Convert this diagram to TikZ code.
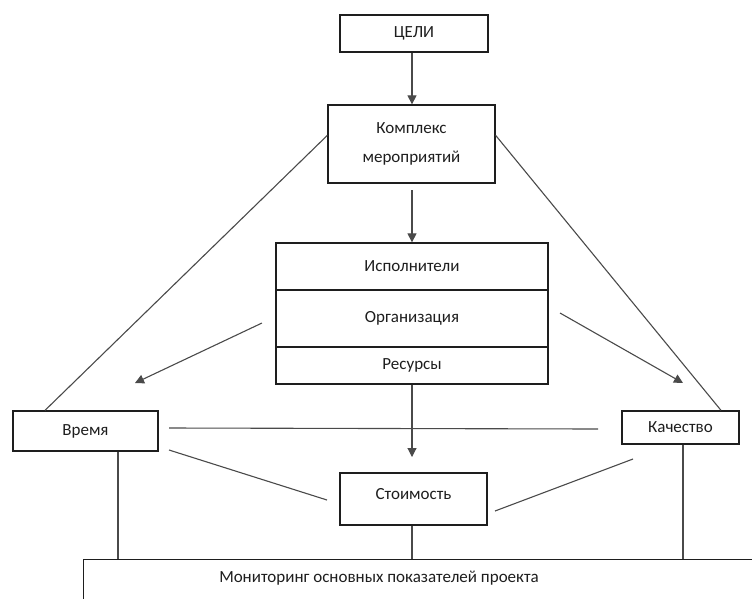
\documentclass[tikz,border=0pt]{standalone}
\usepackage{fontspec}
\setmainfont{Carlito}
\usetikzlibrary{arrows.meta,calc}
\definecolor{ink}{HTML}{1E1E1E}
\definecolor{wire}{HTML}{4A4A4A}
\tikzset{
  lbl/.style={font=\fontsize{17}{20}\selectfont, text=ink},
  box/.style={draw=ink, line width=1.3pt, fill=white, inner sep=0pt, lbl},
  link/.style={draw=wire, line width=1.1pt},
  arr/.style={link, -{Triangle[length=9pt,width=9pt]}},
}
\begin{document}
\begin{tikzpicture}[x=1pt,y=-1pt]
\useasboundingbox (0,0) rectangle (752,598);
\clip (0,0) rectangle (752,598);
\fill[white] (0,0) rectangle (752,598);

% main blocks
\node[box, minimum width=148pt, minimum height=37pt] (goals) at (414,33.5) {ЦЕЛИ};
\node[box, minimum width=167pt, minimum height=78pt, align=center] (plan) at (411.5,144) {Комплекс\\[9pt]мероприятий};
\node[box, minimum width=272pt, minimum height=47pt] (exec) at (412,266.5) {Исполнители};
\node[box, minimum width=272pt, minimum height=57pt] (org) at (412,318.5) {Организация};
\node[box, minimum width=272pt, minimum height=37pt] (res) at (412,365.5) {Ресурсы};
\node[box, minimum width=145pt, minimum height=40pt] (time) at (85.5,431) {Время};
\node[box, minimum width=117pt, minimum height=33pt] (qual) at (680.5,427.5) {Качество};
\node[box, minimum width=147pt, minimum height=52pt, text depth=11pt] (cost) at (413.5,499) {Стоимость};
\node[box, minimum width=690pt, minimum height=60pt, anchor=north west] (mon) at (83,559) {};
\node[lbl] (montext) at (379,578) {Мониторинг основных показателей проекта};

% free ends of the loose connectors
\coordinate (la) at (262,323);
\coordinate (lb) at (135,383);
\coordinate (ra) at (560,313);
\coordinate (rb) at (683,383);
\coordinate (ta) at (169,428);
\coordinate (tb) at (598,429);
\coordinate (tc) at (169,450);
\coordinate (td) at (327,500);
\coordinate (qa) at (495,511);
\coordinate (qb) at (633,459);
\coordinate (pa) at (412,190);
\coordinate (rc) at (412,457);

% vertical flow
\draw[arr] (goals.south -| 412,0) -- (plan.north -| 412,0);
\draw[arr] (pa) -- (exec.north -| pa);
\draw[arr] (res.south -| 412,0) -- (rc);

% side arrows
\draw[arr] (la) -- (lb);
\draw[arr] (ra) -- (rb);

% triangle of constraints
\draw[link] ($(plan.north west)+(0,31)$) -- (time.north west -| 45,0);
\draw[link] ($(plan.north east)+(0,31)$) -- (qual.north west -| 721,0);
\draw[link] (ta) -- (tb);
\draw[link] (tc) -- (td);
\draw[link] (qa) -- (qb);

% links to monitoring
\draw[link] (time.south -| 118,0) -- (mon.north -| 118,0);
\draw[link] (cost.south -| 412,0) -- (mon.north -| 412,0);
\draw[link] (qual.south -| 683,0) -- (mon.north -| 683,0);
\end{tikzpicture}
\end{document}
